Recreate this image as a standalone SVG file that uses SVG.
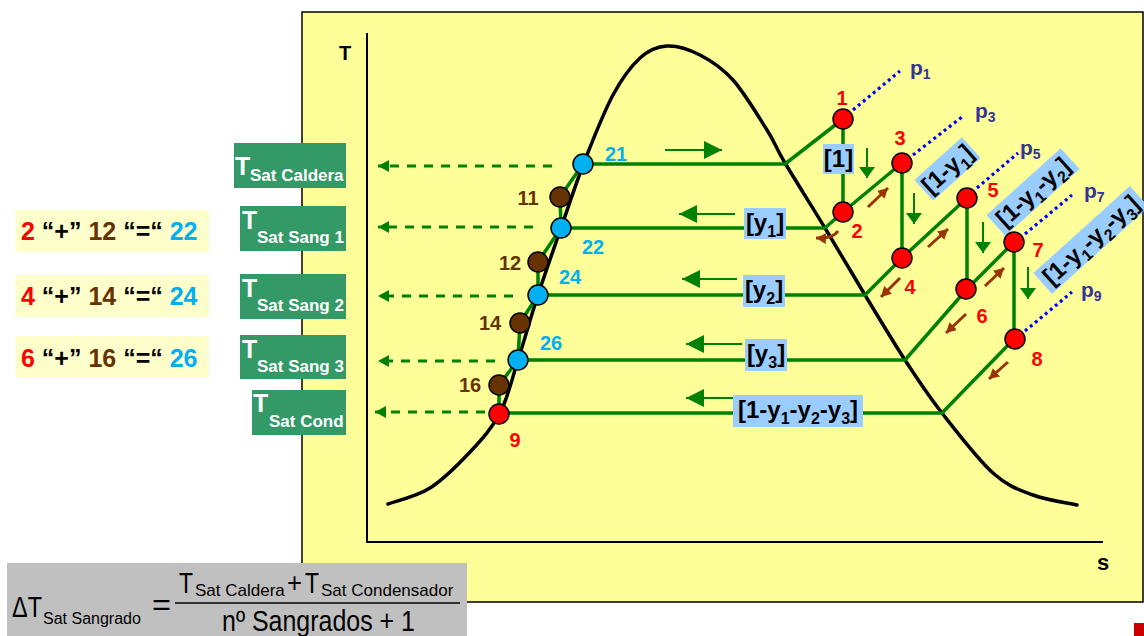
<svg xmlns="http://www.w3.org/2000/svg" width="1144" height="636" viewBox="0 0 1144 636">
<style>
text{font-family:"Liberation Sans",Arial,sans-serif;}
.b{font-weight:bold;}
.gl{fill:none;stroke:#008000;stroke-width:3.5;stroke-linejoin:round;}
.ga{fill:none;stroke:#008000;stroke-width:2;}
.gd{fill:none;stroke:#008000;stroke-width:3;stroke-dasharray:9 8;}
.br{fill:none;stroke:#993300;stroke-width:3;}
.dot{fill:none;stroke:#0000ff;stroke-width:3.2;stroke-dasharray:3 3.5;}
.lb{fill:#99ccff;}
.gb{fill:#339966;}
.eb{fill:#ffffcc;}
.red{fill:#ff0000;stroke:#000;stroke-width:1.5;}
.cy{fill:#00b0f0;stroke:#000;stroke-width:1.5;}
.bn{fill:#663300;stroke:#000;stroke-width:1.5;}
.nr{fill:#ff0000;font-size:20px;font-weight:bold;text-anchor:middle;}
.nc{fill:#00b0f0;font-size:20px;font-weight:bold;text-anchor:middle;}
.nb{fill:#663300;font-size:20px;font-weight:bold;text-anchor:middle;}
.p{fill:#333399;font-size:21px;font-weight:bold;}
.bk{fill:#000;font-size:24px;font-weight:bold;text-anchor:middle;}
.wT{fill:#fff;font-size:25px;font-weight:bold;}
.wS{fill:#fff;font-size:17px;font-weight:bold;}
.eq{font-size:25px;font-weight:bold;}
</style>
<defs>
<marker id="ag" viewBox="0 0 18 18" refX="18" refY="9" markerWidth="18" markerHeight="18" markerUnits="userSpaceOnUse" orient="auto"><path d="M0,0L18,9L0,18z" fill="#008000"/></marker>
<marker id="agd" viewBox="0 0 11 16" refX="11" refY="8" markerWidth="11" markerHeight="16" markerUnits="userSpaceOnUse" orient="auto"><path d="M0,0L11,8L0,16z" fill="#008000"/></marker>
<marker id="ads" viewBox="0 0 11 12" refX="11" refY="6" markerWidth="11" markerHeight="12" markerUnits="userSpaceOnUse" orient="auto"><path d="M0,0L11,6L0,12z" fill="#008000"/></marker>
<marker id="abr" viewBox="0 0 10 11" refX="10" refY="5.5" markerWidth="10" markerHeight="11" markerUnits="userSpaceOnUse" orient="auto"><path d="M0,0L10,5.5L0,11z" fill="#993300"/></marker>
</defs>

<rect x="0" y="0" width="1144" height="636" fill="#fff"/>
<g id="panel">
<rect x="302" y="12" width="841" height="590" fill="#ffff99" stroke="#000" stroke-width="1.5"/>
<path d="M367,33V542H1103" fill="none" stroke="#000" stroke-width="2"/>
<text x="345" y="60" class="b" font-size="20" text-anchor="middle">T</text>
<text x="1103" y="570" class="b" font-size="22" text-anchor="middle">s</text>
</g>

<g id="dome">
<path fill="none" stroke="#000" stroke-width="3.5" stroke-linecap="round" d="M388,504C395,501.3 416.3,496.7 430,488C443.7,479.3 458.3,464.5 470,452C481.7,439.5 492,428.3 500,413C508,397.7 511.7,379.7 518,360C524.3,340.3 530.8,317 538,295C545.2,273 553.2,250.5 561,228C568.8,205.5 576.3,182.2 585,160C593.7,137.8 603.8,112 613,95C622.2,78 631,66.2 640,58C649,49.8 657,46.5 667,46C677,45.5 689,49.3 700,55C711,60.7 721.8,67.5 733,80C744.2,92.5 758.3,116.2 767,130C775.7,143.8 775.3,146.7 785,163C794.7,179.3 811.7,206 825,228C838.3,250 851.7,273 865,295C878.3,317 892.2,340.3 905,360C917.8,379.7 927.3,394.2 942,413C956.7,431.8 977.8,459.3 993,473C1008.2,486.7 1019,489.7 1033,495C1047,500.3 1069.7,503.3 1077,505"/>
</g>

<g id="connectors">
<path class="gl" d="M499,414L499,385L518,360L520,323L538,295L538,262L561,228L560,197L583,164"/>
<path class="gl" d="M583,164H785L843,119"/>
<path class="gl" d="M561,228H825L843,212"/>
<path class="gl" d="M538,295H865L902,258"/>
<path class="gl" d="M518,360H905L967,289"/>
<path class="gl" d="M499,413H942L1014,339"/>
<path class="gl" d="M843,119L843,212L902,163L902,258L967,198L967,289L1014,242L1014,339"/>
<path class="dot" d="M853,110L900,71"/>
<path class="dot" d="M913,155L962,117"/>
<path class="dot" d="M977,188L1018,153"/>
<path class="dot" d="M1025,234L1072,195"/>
<path class="dot" d="M1025,331L1072,292"/>
<path class="ga" d="M665,150H722" marker-end="url(#ag)"/>
<path class="ga" d="M735,214H679" marker-end="url(#ag)"/>
<path class="ga" d="M737,279H682" marker-end="url(#ag)"/>
<path class="ga" d="M742,344H686" marker-end="url(#ag)"/>
<path class="ga" d="M733,398H686" marker-end="url(#ag)"/>
<path class="ga" d="M867,148V178" marker-end="url(#agd)"/>
<path class="ga" d="M914,193V224" marker-end="url(#agd)"/>
<path class="ga" d="M983,222V253" marker-end="url(#agd)"/>
<path class="ga" d="M1028,267V299" marker-end="url(#agd)"/>
<path class="gd" d="M552,166H378" marker-end="url(#ads)"/>
<path class="gd" d="M533,227H378" marker-end="url(#ads)"/>
<path class="gd" d="M513,296H378" marker-end="url(#ads)"/>
<path class="gd" d="M495,361H378" marker-end="url(#ads)"/>
<path class="gd" d="M485,412H375" marker-end="url(#ads)"/>
<path class="br" d="M868,207L888,188" marker-end="url(#abr)"/>
<path class="br" d="M928,247L948,229" marker-end="url(#abr)"/>
<path class="br" d="M985,286L1004,268" marker-end="url(#abr)"/>
<path class="br" d="M900,278L881,297" marker-end="url(#abr)"/>
<path class="br" d="M966,314L946,333" marker-end="url(#abr)"/>
<path class="br" d="M1008,362L989,379" marker-end="url(#abr)"/>
<path class="br" d="M838,231Q833,239 816,238" marker-end="url(#abr)"/>
</g>

<g id="flow-labels">
<g id="lbl-1"><rect class="lb" x="823" y="144" width="31" height="30"/><text class="bk" x="838.5" y="167" font-size="25">[1]</text></g>
<g id="lbl-y1"><rect class="lb" x="744" y="208" width="42" height="31"/><text class="bk" x="765" y="231">[y<tspan font-size="16" dy="6">1</tspan><tspan dy="-6">]</tspan></text></g>
<g id="lbl-y2"><rect class="lb" x="743" y="275" width="42" height="32"/><text class="bk" x="764" y="298">[y<tspan font-size="16" dy="6">2</tspan><tspan dy="-6">]</tspan></text></g>
<g id="lbl-y3"><rect class="lb" x="745" y="339" width="42" height="32"/><text class="bk" x="766" y="362">[y<tspan font-size="16" dy="6">3</tspan><tspan dy="-6">]</tspan></text></g>
<g id="lbl-1y1y2y3"><rect class="lb" x="733" y="395" width="130" height="32"/><text class="bk" x="798" y="418">[1-y<tspan font-size="16" dy="6">1</tspan><tspan dy="-6">-y</tspan><tspan font-size="16" dy="6">2</tspan><tspan dy="-6">-y</tspan><tspan font-size="16" dy="6">3</tspan><tspan dy="-6">]</tspan></text></g>
<g id="lbl-r1" transform="translate(947.5,169) rotate(-42)"><rect class="lb" x="-32" y="-14" width="64" height="28"/><text class="bk" x="0" y="8">[1-y<tspan font-size="16" dy="6">1</tspan><tspan dy="-6">]</tspan></text></g>
<g id="lbl-r2" transform="translate(1033,192) rotate(-42)"><rect class="lb" x="-50" y="-14" width="100" height="28"/><text class="bk" x="0" y="8">[1-y<tspan font-size="16" dy="6">1</tspan><tspan dy="-6">-y</tspan><tspan font-size="16" dy="6">2</tspan><tspan dy="-6">]</tspan></text></g>
<g id="lbl-r3" transform="translate(1091,240) rotate(-42)"><rect class="lb" x="-65" y="-14" width="130" height="28"/><text class="bk" x="0" y="8">[1-y<tspan font-size="16" dy="6">1</tspan><tspan dy="-6">-y</tspan><tspan font-size="16" dy="6">2</tspan><tspan dy="-6">-y</tspan><tspan font-size="16" dy="6">3</tspan><tspan dy="-6">]</tspan></text></g>
<text class="p" x="910" y="75">p<tspan font-size="14" dy="4">1</tspan></text>
<text class="p" x="975" y="118">p<tspan font-size="14" dy="4">3</tspan></text>
<text class="p" x="1020" y="155">p<tspan font-size="14" dy="4">5</tspan></text>
<text class="p" x="1084" y="198">p<tspan font-size="14" dy="4">7</tspan></text>
<text class="p" x="1081" y="297">p<tspan font-size="14" dy="4">9</tspan></text>
</g>

<g id="node-1"><circle class="red" cx="843" cy="119" r="10"/><text class="nr" x="842" y="105">1</text></g>
<g id="node-2"><circle class="red" cx="843" cy="212" r="10"/><text class="nr" x="857" y="238">2</text></g>
<g id="node-3"><circle class="red" cx="902" cy="163" r="10"/><text class="nr" x="900" y="145">3</text></g>
<g id="node-4"><circle class="red" cx="902" cy="258" r="10"/><text class="nr" x="910" y="294">4</text></g>
<g id="node-5"><circle class="red" cx="967" cy="198" r="10"/><text class="nr" x="993" y="197">5</text></g>
<g id="node-6"><circle class="red" cx="966" cy="289" r="10"/><text class="nr" x="982" y="323">6</text></g>
<g id="node-7"><circle class="red" cx="1014" cy="242" r="10"/><text class="nr" x="1038" y="257">7</text></g>
<g id="node-8"><circle class="red" cx="1015" cy="339" r="10"/><text class="nr" x="1037" y="366">8</text></g>
<g id="node-9"><circle class="red" cx="499" cy="414" r="10"/><text class="nr" x="515" y="447">9</text></g>
<g id="node-21"><circle class="cy" cx="583" cy="164" r="10"/><text class="nc" x="616" y="161">21</text></g>
<g id="node-22"><circle class="cy" cx="561" cy="228" r="10"/><text class="nc" x="593" y="254">22</text></g>
<g id="node-24"><circle class="cy" cx="538" cy="295" r="10"/><text class="nc" x="570" y="284">24</text></g>
<g id="node-26"><circle class="cy" cx="518" cy="360" r="10"/><text class="nc" x="551" y="350">26</text></g>
<g id="node-11"><circle class="bn" cx="560" cy="197" r="10"/><text class="nb" x="528" y="205">11</text></g>
<g id="node-12"><circle class="bn" cx="538" cy="262" r="10"/><text class="nb" x="510" y="270">12</text></g>
<g id="node-14"><circle class="bn" cx="520" cy="323" r="10"/><text class="nb" x="490" y="330">14</text></g>
<g id="node-16"><circle class="bn" cx="499" cy="385" r="10"/><text class="nb" x="470" y="392">16</text></g>

<g id="tsat-caldera"><rect class="gb" x="234" y="143" width="112" height="45"/><text class="wT" x="235" y="175">T</text><text class="wS" x="250" y="181">Sat Caldera</text></g>
<g id="tsat-sang1"><rect class="gb" x="240" y="206" width="106" height="45"/><text class="wT" x="242" y="229">T</text><text class="wS" x="257" y="243">Sat Sang 1</text></g>
<g id="tsat-sang2"><rect class="gb" x="240" y="274" width="106" height="45"/><text class="wT" x="242" y="297">T</text><text class="wS" x="257" y="311">Sat Sang 2</text></g>
<g id="tsat-sang3"><rect class="gb" x="240" y="335" width="106" height="44"/><text class="wT" x="242" y="358">T</text><text class="wS" x="257" y="372">Sat Sang 3</text></g>
<g id="tsat-cond"><rect class="gb" x="252" y="390" width="94" height="45"/><text class="wT" x="253" y="412">T</text><text class="wS" x="269" y="427">Sat Cond</text></g>

<g id="eq-22"><rect class="eb" x="15" y="210" width="194" height="42"/><text class="eq" x="21" y="240"><tspan fill="#ff0000">2</tspan> “+” <tspan fill="#663300">12</tspan> “=“ <tspan fill="#00b0f0">22</tspan></text></g>
<g id="eq-24"><rect class="eb" x="15" y="275" width="194" height="42"/><text class="eq" x="21" y="305"><tspan fill="#ff0000">4</tspan> “+” <tspan fill="#663300">14</tspan> “=“ <tspan fill="#00b0f0">24</tspan></text></g>
<g id="eq-26"><rect class="eb" x="15" y="336" width="194" height="41"/><text class="eq" x="21" y="367"><tspan fill="#ff0000">6</tspan> “+” <tspan fill="#663300">16</tspan> “=“ <tspan fill="#00b0f0">26</tspan></text></g>

<g id="formula">
<rect x="7" y="563" width="460" height="73" fill="#c0c0c0"/>
<text x="12" y="617" font-size="30" textLength="30" lengthAdjust="spacingAndGlyphs">ΔT</text>
<text x="43" y="624" font-size="16">Sat Sangrado</text>
<text x="152" y="615" font-size="30" textLength="19" lengthAdjust="spacingAndGlyphs">=</text>
<text x="179" y="593" font-size="30" textLength="14" lengthAdjust="spacingAndGlyphs">T</text>
<text x="195" y="596" font-size="17">Sat Caldera</text>
<text x="287" y="592" font-size="28" textLength="15" lengthAdjust="spacingAndGlyphs">+</text>
<text x="305" y="593" font-size="30" textLength="14" lengthAdjust="spacingAndGlyphs">T</text>
<text x="321" y="596" font-size="17">Sat Condensador</text>
<line x1="175" y1="603" x2="460" y2="603" stroke="#000" stroke-width="1.5"/>
<text x="222" y="631" font-size="29" textLength="193" lengthAdjust="spacingAndGlyphs">nº Sangrados + 1</text>
</g>
<rect x="1134" y="623" width="10" height="13" fill="#cc0000"/>
</svg>
